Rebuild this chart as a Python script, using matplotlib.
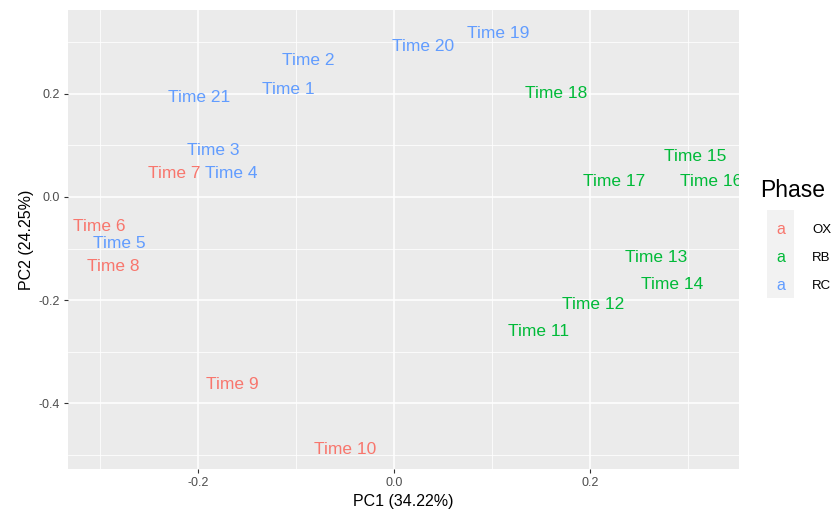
import matplotlib.pyplot as plt
from matplotlib.patches import Rectangle

plt.rcParams['font.family'] = ['Liberation Sans', 'DejaVu Sans']

# PCA scores
labels = ["Time 1", "Time 2", "Time 3", "Time 4", "Time 5", "Time 6", "Time 7",
          "Time 8", "Time 9", "Time 10", "Time 11", "Time 12", "Time 13", "Time 14",
          "Time 15", "Time 16", "Time 17", "Time 18", "Time 19", "Time 20", "Time 21"]
pc1 = [-0.108, -0.088, -0.184, -0.166, -0.280, -0.301, -0.224,
       -0.287, -0.165, -0.050, 0.147, 0.203, 0.267, 0.284,
       0.307, 0.324, 0.225, 0.165, 0.106, 0.030, -0.199]
pc2 = [0.208, 0.264, 0.091, 0.046, -0.091, -0.058, 0.046,
       -0.134, -0.363, -0.491, -0.262, -0.208, -0.117, -0.169,
       0.078, 0.031, 0.031, 0.200, 0.318, 0.293, 0.194]
phase = ["RC", "RC", "RC", "RC", "RC", "OX", "OX",
         "OX", "OX", "OX", "RB", "RB", "RB", "RB",
         "RB", "RB", "RB", "RB", "RC", "RC", "RC"]

phases = ["OX", "RB", "RC"]
colors = {"OX": "#F8766D", "RB": "#00BA38", "RC": "#619CFF"}

fig = plt.figure(figsize=(8.35, 5.15), dpi=100)
ax = fig.add_axes([0.0814, 0.0893, 0.8036, 0.8913])
ax.set_facecolor("#EBEBEB")

# etiquetas de texto centradas en cada punto
for lab, x, y, ph in zip(labels, pc1, pc2, phase):
    ax.text(x, y, lab, color=colors[ph], fontsize=12.5, ha="center", va="center",
            clip_on=True)

ax.set_xlim(-0.3327, 0.352)
ax.set_ylim(-0.528, 0.363)
ax.set_xticks([-0.2, 0.0, 0.2])
ax.set_xticks([-0.3, -0.1, 0.1, 0.3], minor=True)
ax.set_yticks([-0.4, -0.2, 0.0, 0.2])
ax.set_yticks([-0.5, -0.3, -0.1, 0.1, 0.3], minor=True)
ax.set_xticklabels(["-0.2", "0.0", "0.2"])
ax.set_yticklabels(["-0.4", "-0.2", "0.0", "0.2"])

ax.grid(which="major", color="white", linewidth=1.1)
ax.grid(which="minor", color="white", linewidth=0.55)
ax.set_axisbelow(True)
for s in ax.spines.values():
    s.set_visible(False)
ax.tick_params(which="major", length=3, color="#333333", labelsize=9,
               labelcolor="#4D4D4D", pad=3)
ax.tick_params(which="minor", length=0)

ax.set_xlabel("PC1 (34.22%)", fontsize=11.5, labelpad=3)
ax.set_ylabel("PC2 (24.25%)", fontsize=11.5, labelpad=3)

# leyenda al estilo ggplot
fig.text(760 / 835, 1 - 191 / 515, "Phase", fontsize=16.5, ha="left", va="center")
fig.patches.append(Rectangle((767 / 835, 1 - 298 / 515), 27 / 835, 88 / 515,
                             transform=fig.transFigure, facecolor="#F2F2F2",
                             edgecolor="none"))
key_y = [230, 258, 286]
for ph, ky in zip(phases, key_y):
    fig.text(780.5 / 835, 1 - ky / 515, "a", color=colors[ph], fontsize=11.5,
             ha="center", va="center")
    fig.text(812 / 835, 1 - ky / 515, ph, fontsize=9.5, ha="left", va="center")

fig.savefig("out.png", dpi=100)
